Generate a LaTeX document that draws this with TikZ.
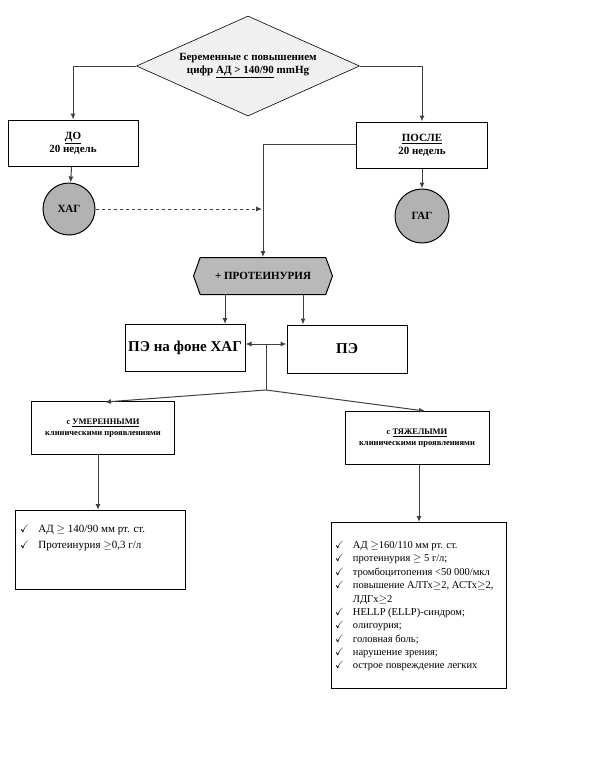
\documentclass[tikz,border=0pt]{standalone}
\usepackage{amssymb}
\usepackage{fontspec}
\setmainfont{Liberation Serif}
\usetikzlibrary{shapes.geometric,shapes.symbols,arrows.meta}

\tikzset{
    box/.style={draw, line width=1pt, fill=white, font=\bfseries\fontsize{11}{13}\selectfont, align=center, inner sep=0pt},
    circ/.style={draw, line width=1pt, circle, fill=gray!60, font=\bfseries\fontsize{11}{13}\selectfont, inner sep=0pt},
    arr/.style={line width=1pt, -{Latex[length=6pt,width=5pt]}, draw=black!75},
    lst/.style={draw, line width=1pt, anchor=north west, inner sep=0pt}
}

\begin{document}
\begin{tikzpicture}[x=1pt,y=-1pt]
    \useasboundingbox (0,0) rectangle (612,763);

    \node[diamond, draw, line width=0.6pt, fill=gray!12, aspect=2.23, minimum width=223pt, minimum height=100pt,
        font=\bfseries\fontsize{11}{13}\selectfont, align=center, inner sep=0pt] (preg) at (248,66)
        {Беременные с повышением\\цифр \underline{АД > 140/90} mmHg};

    \node[box, minimum width=130pt, minimum height=46pt] (before) at (73,143) {\underline{ДО}\\20 недель};
    \node[box, minimum width=131pt, minimum height=46pt] (after) at (422,145) {\underline{ПОСЛЕ}\\20 недель};

    \node[circ, minimum size=52pt] (hag) at (69,209) {ХАГ};
    \node[circ, minimum size=54pt] (gag) at (422,216) {ГАГ};

    \node[signal, signal to=west and east, draw, line width=1pt, fill=gray!55, minimum width=139pt, minimum height=37pt,
        signal pointer angle=140, font=\bfseries\fontsize{11}{13}\selectfont, inner sep=0pt] (prot) at (263,276) {+ ПРОТЕИНУРИЯ};

    \node[box, minimum width=120pt, minimum height=47pt, font=\bfseries\fontsize{15}{18}\selectfont] (pehag) at (185,348) {ПЭ на фоне ХАГ};
    \node[box, minimum width=120pt, minimum height=48pt, font=\bfseries\fontsize{15}{18}\selectfont] (pe) at (347,349) {ПЭ};

    \node[box, minimum width=143pt, minimum height=53pt, font=\bfseries\fontsize{8.5}{11}\selectfont] (mod) at (103,428)
        {с \underline{УМЕРЕННЫМИ}\\клиническими проявлениями};
    \node[box, minimum width=144pt, minimum height=53pt, font=\bfseries\fontsize{8.5}{11}\selectfont] (sev) at (417,438)
        {с \underline{ТЯЖЕЛЫМИ}\\клиническими проявлениями};

    \node[lst, minimum width=170pt, minimum height=79pt] (modlist) at (15,510) {};
    \node[anchor=north west, font=\fontsize{11}{13}\selectfont, inner sep=0pt] at (20,520)
        {\renewcommand{\arraystretch}{1.3}\begin{tabular}{@{}l@{\hspace{9pt}}l@{}}
        \checkmark & АД $\geq$ 140/90 мм рт. ст.\\
        \checkmark & Протеинурия $\geq$0,3 г/л
        \end{tabular}};

    \node[lst, minimum width=175pt, minimum height=166pt] (sevlist) at (331,522) {};
    \node[anchor=north west, font=\fontsize{10.5}{12.5}\selectfont, inner sep=0pt] at (335,539)
        {\renewcommand{\arraystretch}{1.07}\begin{tabular}{@{}l@{\hspace{9pt}}p{148pt}@{}}
        \checkmark & АД $\geq$160/110 мм рт. ст.\\
        \checkmark & протеинурия $\geq$ 5 г/л;\\
        \checkmark & тромбоцитопения <50 000/мкл\\
        \checkmark & повышение АЛТх$\geq$2, АСТх$\geq$2,\\
                   & ЛДГх$\geq$2\\
        \checkmark & HELLP (ELLP)-синдром;\\
        \checkmark & олигоурия;\\
        \checkmark & головная боль;\\
        \checkmark & нарушение зрения;\\
        \checkmark & острое повреждение легких
        \end{tabular}};

    % connectors
    \draw[arr] (preg.west) -| (before.north);
    \draw[arr] (preg.east) -| (after.north);
    \draw[arr] (before) -- (hag);
    \draw[arr] (after) -- (gag);
    \coordinate (turn) at (263,144);
    \draw[arr] (after.west |- turn) -- (turn) -- (prot.north);
    \coordinate (dashend) at (262,209);
    \draw[arr, dashed] (hag.east) -- (dashend);

    \draw[arr] ([xshift=-38pt]prot.south) -- ([xshift=-38pt]prot.south |- pehag.north);
    \draw[arr] ([xshift=40pt]prot.south) -- ([xshift=40pt]prot.south |- pe.north);

    \coordinate (mid) at (266,344);
    \coordinate (split) at (266,390);
    \draw[arr] (mid) -- (mid -| pehag.east);
    \draw[arr] (mid) -- (mid -| pe.west);
    \draw[line width=1pt, draw=black!75] (mid) -- (split);
    \draw[arr] (split) -- (105,402);
    \draw[arr] (split) -- (425,411);

    \draw[arr] (98,455) -- (98,510);
    \draw[arr] (419,465) -- (419,522);
\end{tikzpicture}
\end{document}
